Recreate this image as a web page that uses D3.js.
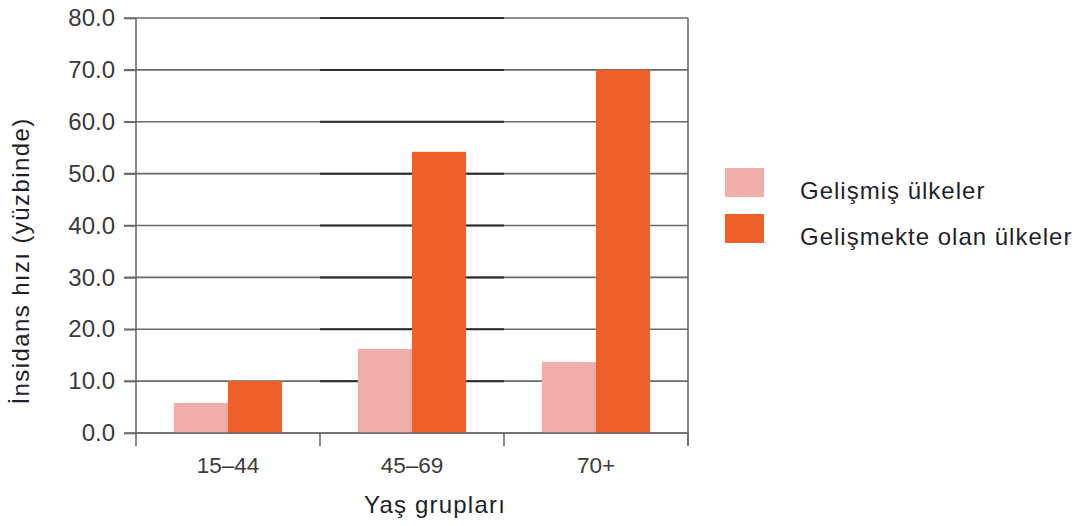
<!DOCTYPE html>
<html>
<head>
<meta charset="utf-8">
<script src="https://cdn.jsdelivr.net/npm/d3@7"></script>
<style>
  body { margin: 0; background: #fff; }
  svg { font-family: "Liberation Sans", Arial, sans-serif; }
</style>
</head>
<body>
<svg id="chart" width="1086" height="526"></svg>
<script>
// Age groups and incidence rates (per 100,000)
const categories = ["15–44", "45–69", "70+"];
const seriesNames = ["Gelişmiş ülkeler", "Gelişmekte olan ülkeler"];
const developed = [5.8, 16.2, 13.7];
const developing = [10.0, 54.2, 70.0];
const yTicks = [0, 10, 20, 30, 40, 50, 60, 70, 80];
const colors = ["#EFAEAA", "#F0602A"];

(function () {
  const svg = d3.select("#chart");
  const plotLeft = 136, plotRight = 688, plotTop = 18, plotBottom = 433;
  const axisColor = "#6a6a6a";

  const x = d3.scaleBand().domain(categories).range([plotLeft, plotRight]).paddingInner(0).paddingOuter(0);
  const xInner = d3.scaleBand().domain(seriesNames).range([0, x.bandwidth()]).paddingOuter(0.7).paddingInner(0);
  const y = d3.scaleLinear().domain([0, 80]).range([plotBottom, plotTop]);

  // Horizontal gridlines
  const grid = svg.append("g");
  grid.selectAll("line.g").data(yTicks).join("line")
    .attr("class", "g")
    .attr("x1", plotLeft - 12).attr("x2", plotRight)
    .attr("y1", d => y(d)).attr("y2", d => y(d))
    .attr("stroke", axisColor).attr("stroke-width", 1.6);
  // Darker segments across the middle group
  grid.selectAll("line.mid").data(yTicks.filter(d => d > 0)).join("line")
    .attr("class", "mid")
    .attr("x1", x(categories[1])).attr("x2", x(categories[1]) + x.bandwidth())
    .attr("y1", d => y(d)).attr("y2", d => y(d))
    .attr("stroke", "#2a2a2a").attr("stroke-width", 2);

  // Bars
  const data = categories.map((c, i) => ({ cat: c, vals: [developed[i], developing[i]] }));
  const groups = svg.append("g").selectAll("g").data(data).join("g")
    .attr("transform", d => `translate(${x(d.cat)},0)`);
  groups.selectAll("rect").data(d => d.vals.map((v, j) => ({ v, s: seriesNames[j], j })))
    .join("rect")
    .attr("x", d => xInner(d.s))
    .attr("width", xInner.bandwidth())
    .attr("y", d => y(d.v))
    .attr("height", d => y(0) - y(d.v))
    .attr("fill", d => colors[d.j]);

  // Y axis
  const yAxis = svg.append("g").attr("transform", `translate(${plotLeft},0)`)
    .call(d3.axisLeft(y).tickValues(yTicks).tickFormat(d3.format(".1f")).tickSize(12).tickPadding(9));
  yAxis.select(".domain").attr("stroke", axisColor).attr("stroke-width", 1.6).attr("d", `M0,${plotTop}V${plotBottom}`);
  yAxis.selectAll(".tick line").attr("stroke", axisColor).attr("stroke-width", 1.6);
  yAxis.selectAll(".tick text").attr("font-size", 24).attr("fill", "#3a3a3a");

  // Right frame line
  svg.append("line").attr("x1", plotRight).attr("x2", plotRight).attr("y1", plotTop).attr("y2", plotBottom + 13)
    .attr("stroke", axisColor).attr("stroke-width", 1.6);

  // X axis
  const xAxis = svg.append("g").attr("transform", `translate(0,${plotBottom})`)
    .call(d3.axisBottom(x).tickSize(0).tickPadding(24));
  xAxis.select(".domain").attr("stroke", axisColor).attr("stroke-width", 1.6).attr("d", `M${plotLeft},0H${plotRight}`);
  xAxis.selectAll(".tick text").attr("font-size", 22.5).attr("fill", "#3a3a3a");
  svg.append("g").selectAll("line").data([plotLeft, ...categories.map(c => x(c) + x.bandwidth())]).join("line")
    .attr("x1", d => d).attr("x2", d => d).attr("y1", plotBottom).attr("y2", plotBottom + 13)
    .attr("stroke", axisColor).attr("stroke-width", 1.6);

  // Axis titles
  svg.append("text").attr("x", 435).attr("y", 513).attr("text-anchor", "middle")
    .attr("font-size", 24).attr("letter-spacing", 1.2).attr("fill", "#1f1f2a").text("Yaş grupları");
  svg.append("text").attr("transform", "translate(29,261) rotate(-90)").attr("text-anchor", "middle")
    .attr("font-size", 24).attr("letter-spacing", 1.4).attr("fill", "#1f1f2a").text("İnsidans hızı (yüzbinde)");

  // Legend
  const legend = svg.append("g").selectAll("g").data(seriesNames).join("g")
    .attr("transform", (d, i) => `translate(725,${168 + i * 46})`);
  legend.append("rect").attr("width", 39).attr("height", 29).attr("fill", (d, i) => colors[i]);
  legend.append("text").attr("x", 75).attr("y", 31).attr("font-size", 24).attr("letter-spacing", 1)
    .attr("fill", "#1f1f2a").text(d => d);
})();
</script>
</body>
</html>
